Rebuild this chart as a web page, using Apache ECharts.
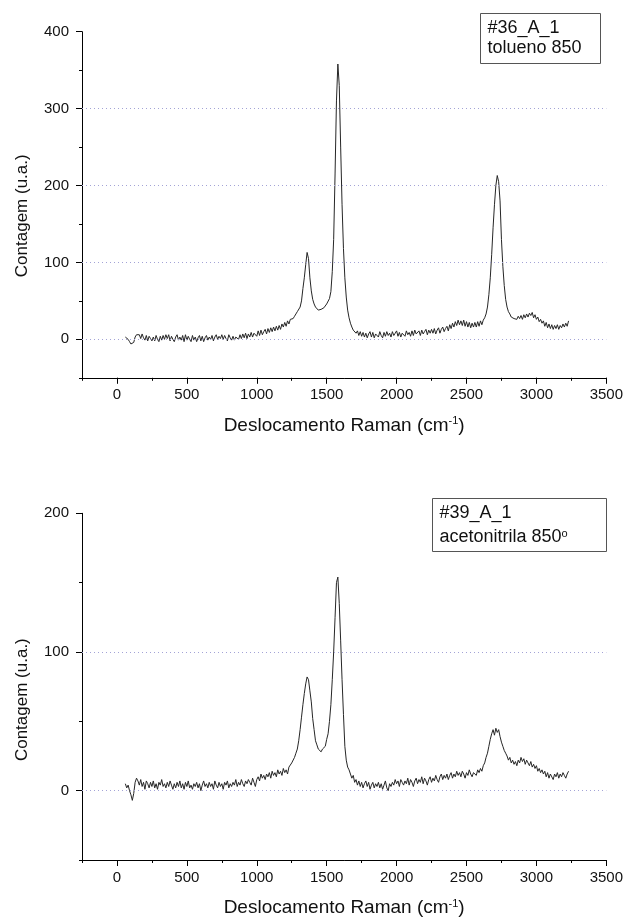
<!DOCTYPE html>
<html>
<head>
<meta charset="utf-8">
<script src="https://cdn.jsdelivr.net/npm/echarts@6/dist/echarts.min.js"></script>
<style>
  html, body { margin: 0; padding: 0; background: #ffffff; }
  #chart { width: 626px; height: 918px; }
</style>
</head>
<body>
<div id="chart"></div>
<script>
// Raman shift sampling positions (cm-1)
const ramanShift = [
  60,70,80,90,100,110,120,130,140,150,
  160,170,180,190,200,210,220,230,240,250,
  260,270,280,290,300,310,320,330,340,350,
  360,370,380,390,400,410,420,430,440,450,
  460,470,480,490,500,510,520,530,540,550,
  560,570,580,590,600,610,620,630,640,650,
  660,670,680,690,700,710,720,730,740,750,
  760,770,780,790,800,810,820,830,840,850,
  860,870,880,890,900,910,920,930,940,950,
  960,970,980,990,1000,1010,1020,1030,1040,1050,
  1060,1070,1080,1090,1100,1110,1120,1130,1140,1150,
  1160,1170,1180,1190,1200,1210,1220,1230,1240,1250,
  1260,1270,1280,1290,1300,1310,1320,1330,1340,1350,
  1360,1370,1380,1390,1400,1410,1420,1430,1440,1450,
  1460,1470,1480,1490,1500,1510,1520,1530,1540,1550,
  1560,1570,1580,1590,1600,1610,1620,1630,1640,1650,
  1660,1670,1680,1690,1700,1710,1720,1730,1740,1750,
  1760,1770,1780,1790,1800,1810,1820,1830,1840,1850,
  1860,1870,1880,1890,1900,1910,1920,1930,1940,1950,
  1960,1970,1980,1990,2000,2010,2020,2030,2040,2050,
  2060,2070,2080,2090,2100,2110,2120,2130,2140,2150,
  2160,2170,2180,2190,2200,2210,2220,2230,2240,2250,
  2260,2270,2280,2290,2300,2310,2320,2330,2340,2350,
  2360,2370,2380,2390,2400,2410,2420,2430,2440,2450,
  2460,2470,2480,2490,2500,2510,2520,2530,2540,2550,
  2560,2570,2580,2590,2600,2610,2620,2630,2640,2650,
  2660,2670,2680,2690,2700,2710,2720,2730,2740,2750,
  2760,2770,2780,2790,2800,2810,2820,2830,2840,2850,
  2860,2870,2880,2890,2900,2910,2920,2930,2940,2950,
  2960,2970,2980,2990,3000,3010,3020,3030,3040,3050,
  3060,3070,3080,3090,3100,3110,3120,3130,3140,3150,
  3160,3170,3180,3190,3200,3210,3220,3230
];

// Sample #36_A_1 (tolueno 850) - counts (u.a.)
const toluenoCounts = [
  3,2,0,-3,-6,-8,-4,3,6,4,
  6,1,7,2,-1,5,-2,4,1,-2,
  3,-2,5,0,-3,4,-1,5,0,6,
  1,6,-2,4,0,-3,3,6,-1,3,
  -1,5,-3,6,-1,4,0,-3,5,-1,
  3,-3,2,5,-2,4,-3,2,5,-1,
  3,0,5,-2,3,6,0,4,1,6,
  0,5,1,-2,6,2,-1,4,-1,3,
  4,0,6,1,7,2,8,1,7,3,
  9,3,8,10,4,11,5,12,6,10,
  13,7,14,9,15,10,16,11,17,12,
  18,13,20,16,22,17,24,20,26,25,
  27,30,33,36,38,42,50,66,80,97,
  113,105,80,63,52,46,42,40,38,40,
  39,41,41,43,46,48,53,62,88,130,
  215,310,358,330,250,175,118,80,55,38,
  28,21,16,12,11,8,11,5,10,4,
  9,3,8,2,7,10,3,9,2,7,
  9,3,10,5,2,9,4,10,5,8,
  3,10,5,8,11,4,9,3,8,10,
  4,11,6,9,4,11,5,12,7,5,
  11,5,12,7,10,13,6,12,8,13,
  8,14,7,12,15,8,13,16,10,14,
  17,11,19,14,21,16,23,18,25,19,
  24,18,25,17,23,16,22,15,21,16,
  22,16,23,17,24,19,25,28,33,42,
  58,80,110,145,175,200,213,205,180,130,
  95,70,52,42,36,33,29,30,27,29,
  26,30,27,31,26,32,28,33,29,34,
  31,35,28,32,26,29,23,26,21,24,
  17,22,15,20,14,19,13,18,14,19,
  13,18,15,20,16,21,17,24
];

// Sample #39_A_1 (acetonitrila 850) - counts (u.a.)
const acetonitrilaCounts = [
  5,2,4,0,-3,-7,-2,6,9,7,
  4,8,3,6,1,7,5,2,6,3,
  7,2,5,1,6,4,8,3,5,2,
  6,3,7,4,1,5,2,6,3,7,
  2,5,1,6,3,7,2,4,1,5,
  3,6,2,5,0,4,7,3,5,2,
  6,3,5,1,7,4,2,6,3,5,
  1,6,4,7,2,5,3,6,4,8,
  3,6,4,8,5,3,7,5,8,6,
  4,9,6,3,8,10,7,12,9,11,
  8,12,10,13,9,14,11,13,10,15,
  12,14,11,16,13,15,12,17,16,20,
  21,24,27,30,36,44,53,62,70,77,
  82,80,72,64,52,44,36,33,30,31,
  28,30,29,32,37,41,50,62,80,100,
  125,150,154,135,108,80,55,32,22,17,
  15,12,9,11,6,8,4,7,3,6,
  2,5,7,3,6,1,4,6,2,5,
  3,6,2,5,1,4,7,2,0,5,
  3,6,4,8,5,7,3,8,6,4,
  7,5,9,4,8,6,3,7,9,5,
  8,6,10,5,9,7,4,8,10,6,
  9,7,11,8,6,10,12,8,11,9,
  12,8,11,13,9,12,10,14,11,13,
  10,14,12,9,13,11,15,12,10,13,
  14,11,15,13,16,14,18,20,24,27,
  32,37,41,44,40,45,42,44,39,35,
  32,29,27,25,22,24,20,22,19,21,
  18,22,20,24,21,23,19,22,20,18,
  21,17,19,16,18,14,16,13,15,12,
  14,10,13,9,12,11,8,12,10,13,
  9,12,10,13,11,9,12,14
];

// Axis tick values
const shiftMajorTicks = [0, 500, 1000, 1500, 2000, 2500, 3000, 3500];
const toluenoMajorTicks = [0, 100, 200, 300, 400];
const acetonitrilaMajorTicks = [0, 100, 200];
const toluenoGridLevels = [0, 100, 200, 300];
const acetonitrilaGridLevels = [0, 100];

// Panel captions
const toluenoCaption = ['#36_A_1', 'tolueno 850'];
const acetonitrilaCaption = ['#39_A_1', 'acetonitrila 850{sup|o}'];

const FONT = '"Liberation Sans", Arial, Helvetica, sans-serif';
const INK = '#111111';

function toPairs(xs, ys) {
  return xs.map((x, i) => [x, ys[i]]);
}

function shiftAxes(gridIndex) {
  return [
    {
      type: 'value', gridIndex, position: 'bottom',
      min: -250, max: 3500, interval: 250,
      axisLine: { show: true, onZero: false, lineStyle: { color: '#000', width: 1 } },
      axisTick: { show: true, length: 3, lineStyle: { color: '#000', width: 1 } },
      axisLabel: {
        show: true, margin: 10, fontSize: 15, fontFamily: FONT, color: INK,
        formatter: v => (v >= 0 && v % 500 === 0) ? String(v) : ''
      },
      splitLine: { show: false },
      name: 'Deslocamento Raman (cm{sup|-1})',
      nameLocation: 'middle', nameGap: 38,
      nameTextStyle: {
        fontSize: 19, fontFamily: FONT, color: INK,
        rich: { sup: { fontSize: 11, fontFamily: FONT, color: INK, verticalAlign: 'top', lineHeight: 11 } }
      }
    },
    {
      type: 'value', gridIndex, position: 'bottom',
      min: -250, max: 3500, interval: 250,
      axisLine: { show: false, onZero: false },
      axisTick: { show: true, length: 6, customValues: shiftMajorTicks, lineStyle: { color: '#000', width: 1 } },
      axisLabel: { show: false },
      splitLine: { show: false }
    }
  ];
}

function countAxes(gridIndex, maxValue, majorTicks, shiftDown) {
  return [
    {
      type: 'value', gridIndex, position: 'left',
      min: -50, max: maxValue, interval: 50,
      axisLine: { show: true, onZero: false, lineStyle: { color: '#000', width: 1 } },
      axisTick: { show: true, length: 3, lineStyle: { color: '#000', width: 1 } },
      axisLabel: {
        show: true, margin: 13, fontSize: 15, fontFamily: FONT, color: INK,
        formatter: v => (v >= 0 && v % 100 === 0) ? String(v) : ''
      },
      splitLine: { show: false },
      name: 'Contagem (u.a.)',
      nameLocation: 'middle', nameGap: 51,
      nameTextStyle: { fontSize: 17, fontFamily: FONT, color: INK, padding: [0, shiftDown * 2, 0, 0] }
    },
    {
      type: 'value', gridIndex, position: 'left',
      min: -50, max: maxValue, interval: 50,
      axisLine: { show: false, onZero: false },
      axisTick: { show: true, length: 6, customValues: majorTicks, lineStyle: { color: '#000', width: 1 } },
      axisLabel: { show: false },
      splitLine: { show: false }
    }
  ];
}

function spectrumSeries(name, gridIndex, counts, gridLevels) {
  return {
    name, type: 'line',
    xAxisIndex: gridIndex * 2, yAxisIndex: gridIndex * 2,
    data: toPairs(ramanShift, counts),
    showSymbol: false, symbol: 'none', smooth: false,
    lineStyle: { color: '#262626', width: 1 },
    emphasis: { disabled: true },
    silent: true, animation: false,
    markLine: {
      silent: true, symbol: 'none', animation: false,
      label: { show: false },
      lineStyle: { type: [1, 3], color: '#a3a3d6', width: 1 },
      emphasis: { disabled: true },
      data: gridLevels.map(v => ({ yAxis: v }))
    }
  };
}

function captionBox(x, y, w, h, lines, lineGap) {
  const items = [{
    type: 'rect', x: x, y: y,
    shape: { width: w, height: h },
    style: { fill: '#ffffff', stroke: '#555555', lineWidth: 1 },
    silent: true
  }];
  lines.forEach((t, i) => {
    items.push({
      type: 'text', x: x + 7, y: y + h / 2 + (i - 0.5) * lineGap,
      style: {
        text: t, fill: INK, fontSize: 18, fontFamily: FONT,
        verticalAlign: 'middle', align: 'left',
        rich: { sup: { fontSize: 11, fontFamily: FONT, fill: INK, verticalAlign: 'top', lineHeight: 10 } }
      },
      silent: true
    });
  });
  return items;
}

const chart = echarts.init(document.getElementById('chart'), null, { renderer: 'canvas' });

chart.setOption({
  backgroundColor: '#ffffff',
  animation: false,
  grid: [
    { left: 82, right: 19, top: 31.7, height: 346.1, containLabel: false },
    { left: 82, right: 19, top: 513.3, height: 346.7, containLabel: false }
  ],
  xAxis: [].concat(shiftAxes(0), shiftAxes(1)),
  yAxis: [].concat(
    countAxes(0, 400, toluenoMajorTicks, 11),
    countAxes(1, 200, acetonitrilaMajorTicks, 13)
  ),
  series: [
    spectrumSeries('#36_A_1 tolueno 850', 0, toluenoCounts, toluenoGridLevels),
    spectrumSeries('#39_A_1 acetonitrila 850', 1, acetonitrilaCounts, acetonitrilaGridLevels)
  ],
  graphic: [].concat(
    captionBox(480.5, 13.5, 120, 50, toluenoCaption, 20),
    captionBox(432.5, 498.5, 174, 53, acetonitrilaCaption, 24)
  )
});
</script>
</body>
</html>
